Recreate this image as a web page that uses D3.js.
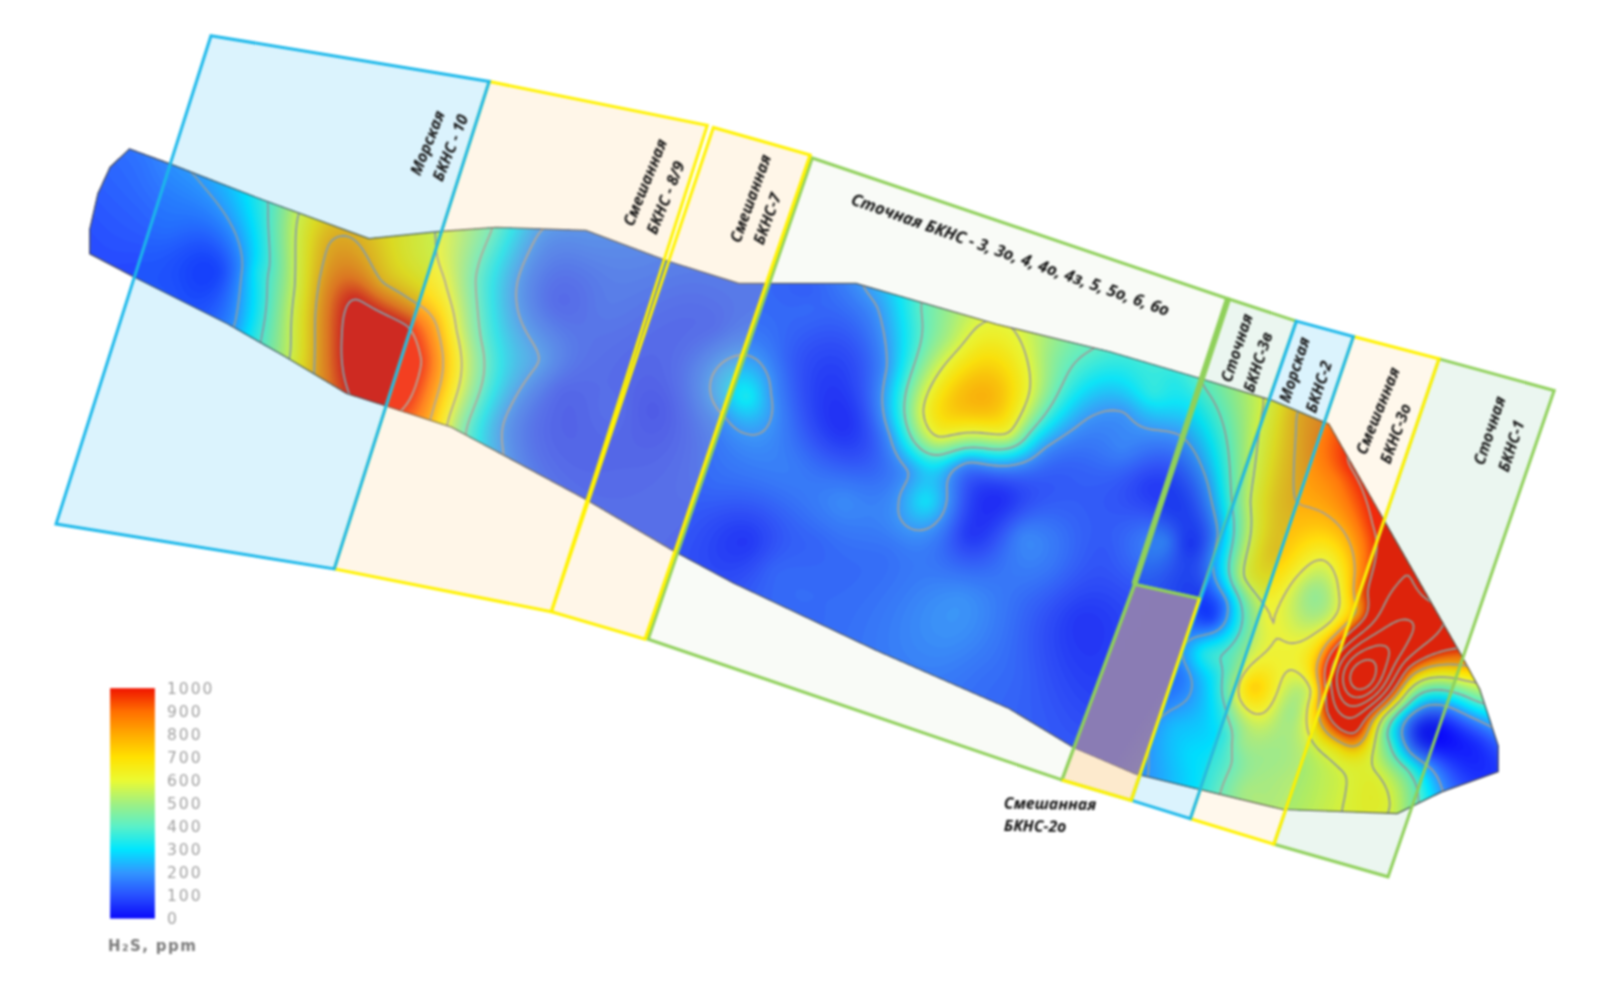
<!DOCTYPE html>
<html><head><meta charset="utf-8">
<script src="https://cdn.jsdelivr.net/npm/d3@7"></script>
<style>html,body{margin:0;background:#fff}svg{display:block;filter:blur(1px)}</style>
</head><body><div id="c"></div>
<script>
// reservoir outline (reference units 1568x973)
const outline=[[127,146],[108,164],[96,190],[88,225],[88,249],[132,272],[224,318],[280,350],[340,386],[378,398],[443,419],[575,490],[660,540],[720,572],[860,638],[990,695],[1053,733],[1114,759],[1180,775],[1259,794],[1371,798],[1414,777],[1470,757],[1470,731],[1452,676],[1433,641],[1304,416],[1249,393],[1177,371],[1089,345],[978,318],[840,278],[725,278],[655,256],[575,226],[487,223],[432,227],[362,234],[255,195],[165,160]];
// H2S readings [x, y, ppm]
const leftSamples=[[105,175,130],[100,220,110],[105,250,100],[135,160,150],[135,205,130],[135,265,90],[165,170,180],[165,225,130],[165,285,90],[189,170,200],[200,230,110],[195,295,80],[237,260,200],[229,318,200],[215,265,70],[250,205,340],[250,265,340],[245,325,330],
[262,202,400],[264,260,400],[255,330,400],[290,214,600],[288,280,600],[284,342,600],[321,237,800],[312,272,800],[307,357,800],[355,244,800],[373,276,800],[404,295,800],[426,314,800],[432,369,800],[421,411,800],[347,290,1000],[334,330,1000],[340,381,1000],[399,318,1000],[413,353,1000],[395,398,1000],[365,340,1130],[378,375,1110],[390,350,1060],
[400,245,660],[435,272,600],[446,322,600],[439,407,600],[430,233,590],[481,225,400],[465,272,400],[470,330,400],[456,419,400],[527,227,200],[506,276,200],[529,353,200],[492,415,200],[492,438,200]];
const midSamples=[[548,295,100],[548,381,100],[590,300,130],[600,400,110],[575,240,160],[640,280,130],[640,400,70],[620,470,100],[670,520,100],[660,330,100],[700,320,110],[700,290,120],[670,440,110],[732,347,200],[754,385,200],[732,424,200],[711,407,200],[732,388,330],[701,474,130],[732,530,50],[757,556,120],[774,458,160],[827,415,40],[837,376,80],[790,300,130],[820,300,130],[827,490,180],[802,605,130],[770,350,120],[800,530,120]];
const centerSamples=[[848,284,200],[869,360,200],[872,425,200],[892,461,200],[881,494,200],[904,518,200],[928,487,200],[935,458,200],[949,451,200],[995,454,200],[1023,438,200],[1065,409,200],[1103,402,200],[1156,425,200],[1184,474,200],[1194,523,200],
[902,302,400],[886,395,400],[893,428,400],[918,445,400],[946,438,400],[988,438,400],[1009,422,400],[1068,343,400],[956,320,600],[904,402,600],[918,428,600],[988,425,600],[1009,382,600],[997,328,600],[967,389,790],[967,345,690],[930,330,520],[1030,350,480],[907,490,310],[984,487,40],[949,523,50],[1002,523,170],[942,585,190],[897,572,160],[1002,588,130],[870,540,140],[860,300,200],[1166,533,40],[1142,530,170],[1124,474,60],[1054,474,110],[1082,539,100],[1058,605,50],[1070,700,80],[1000,660,120],[930,620,190],[1030,560,140],[1090,620,60],[1090,700,80],[1120,650,100],[1100,440,170],[1170,395,320],[1130,385,350],[1100,365,320],[1150,500,60],[1030,700,100],[960,660,140],[800,570,130],[735,285,130],[790,285,110],[1150,372,330]];
const rightSamples=[[1180,379,400],[1204,443,400],[1209,506,400],[1239,395,600],[1225,491,600],[1218,565,600],[1235,587,600],[1270,406,800],[1270,491,800],[1215,400,500],[1297,412,880],[1250,450,720],[1250,540,760],[1210,600,300],[1200,590,150],[1187,606,50],[1166,600,90],[1180,639,360],[1159,661,150],[1149,709,250],[1166,738,300],[1135,757,220],[1194,642,400],[1201,690,400],[1208,653,450],[1190,661,330],[1187,709,300],[1201,720,330],[1208,746,400],[1228,672,750],[1214,683,600],[1239,698,600],[1256,665,600],[1270,659,600],[1287,676,600],[1266,698,480],[1242,738,480],[1215,727,470],[1221,775,500],[1287,580,470],[1297,547,600],[1311,569,600],[1304,609,600],[1270,628,600],[1242,609,600],[1277,558,600],[1242,654,640],[1277,642,640],
[1280,495,800],[1318,521,800],[1328,561,800],[1332,600,830],[1294,642,800],[1321,454,1000],[1345,513,1000],[1359,535,1060],[1335,580,950],[1314,628,1000],[1300,695,1000],[1297,432,900],[1311,469,900],
[1335,665,2050],[1387,609,1400],[1377,558,1200],[1363,639,1600],[1310,665,1400],[1328,716,1050],[1328,731,800],[1328,746,640],[1400,580,1150],[1430,625,1080],[1345,705,800],[1449,654,800],[1449,668,600],[1449,683,450],[1449,694,320],[1449,705,200],[1449,727,60],[1460,757,60],[1394,716,10],[1431,738,40],[1380,676,600],[1380,665,800],[1380,653,1000],[1380,639,1300],[1380,690,400],[1380,698,250],[1356,701,600],[1359,720,400],[1385,735,150],[1345,738,600],[1352,760,600],[1363,790,600],[1363,727,400],[1380,753,400],[1390,775,400],[1390,786,400],[1404,753,200],[1414,775,200],[1345,764,630],[1330,775,620],[1318,783,600],[1294,764,560],[1318,757,600],[1290,727,620],[1311,731,700],[1342,727,680],[1259,764,510],[1242,779,500],[1180,770,330]];
const samples=[...leftSamples,...midSamples,...centerSamples,...rightSamples];
// zones
const zoneBlue10=[[207,35],[480,80],[328,558],[55,514]];
const zoneYellow89=[[480,80],[694,123],[541,600],[328,558]];
const zoneYellow7=[[700,125],[795,152],[633,627],[541,600]];
const zoneGreenBig=[[797,155],[1205,293],[1113,575],[1042,765],[636,627]];
const zoneGreen3v=[[1205,293],[1272,315],[1177,587],[1113,573]];
const zonePurple=[[1113,573],[1177,587],[1110,785],[1042,765]];
const zoneBlue2=[[1272,315],[1328,330],[1168,803],[1110,785]];
const zoneYellow3o=[[1328,330],[1412,352],[1250,828],[1168,803]];
const zoneGreen1=[[1412,352],[1525,383],[1362,860],[1250,828]];
const legendTicks=[0,100,200,300,400,500,600,700,800,900,1000];
const legendColors=["#0a0afa","#2850ff","#3296ff","#00e6ff","#5af0c8","#a0f082","#ebfa32","#ffe100","#ffaa00","#ff6e00","#f01400"];
const isoLevels=[200,400,600,800,1000,1200,1400,1600,1800,2000];

const W=1598,H=992;
const xS=d3.scaleLinear().domain([0,1568]).range([0,W]);
const yS=d3.scaleLinear().domain([0,973]).range([0,H]);
const color=d3.scaleLinear().domain(legendTicks).range(legendColors).clamp(true);
const svg=d3.select("#c").append("svg").attr("width",W).attr("height",H);
const line=d3.line().x(d=>xS(d[0])).y(d=>yS(d[1]));
const closed=d3.line().x(d=>xS(d[0])).y(d=>yS(d[1])).curve(d3.curveLinearClosed);
const defs=svg.append("defs");
defs.append("clipPath").attr("id","band").append("path").attr("d",closed(outline));

// thin plate surface through the readings
function fitSurface(pts,lam){
  const n=pts.length,N=n+3,A=[];
  const U=r2=>r2<=1e-9?0:.5*r2*Math.log(r2);
  const px=pts.map(p=>p[0]/100),py=pts.map(p=>p[1]/100);
  for(let i=0;i<N;i++)A.push(new Float64Array(N+1));
  for(let i=0;i<n;i++){
    for(let j=0;j<n;j++){const dx=px[i]-px[j],dy=py[i]-py[j];A[i][j]=U(dx*dx+dy*dy);}
    A[i][i]=lam;A[i][n]=1;A[i][n+1]=px[i];A[i][n+2]=py[i];
    A[n][i]=1;A[n+1][i]=px[i];A[n+2][i]=py[i];A[i][N]=pts[i][2];
  }
  for(let c=0;c<N;c++){
    let m=c;for(let r=c+1;r<N;r++)if(Math.abs(A[r][c])>Math.abs(A[m][c]))m=r;
    const t=A[c];A[c]=A[m];A[m]=t;
    for(let r=c+1;r<N;r++){const f=A[r][c]/A[c][c];if(f===0)continue;for(let k=c;k<=N;k++)A[r][k]-=f*A[c][k];}
  }
  const w=new Float64Array(N);
  for(let r=N-1;r>=0;r--){let s=A[r][N];for(let k=r+1;k<N;k++)s-=A[r][k]*w[k];w[r]=s/A[r][r];}
  return (x,y)=>{x/=100;y/=100;let s=w[n]+w[n+1]*x+w[n+2]*y;
    for(let i=0;i<n;i++){const dx=x-px[i],dy=y-py[i];s+=w[i]*U(dx*dx+dy*dy);}
    return s;};
}
const f=fitSurface(samples,.012);
const step=3,gw=Math.ceil(W/step),gh=Math.ceil(H/step);
const grid=new Float64Array(gw*gh).fill(0);
for(let j=0;j<gh;j++)for(let i=0;i<gw;i++){
  const x=xS.invert(i*step),y=yS.invert(j*step);
  if(x>70&&x<1490&&y>130&&y<815)grid[j*gw+i]=Math.max(0,Math.min(2600,f(x,y)));
}
const path=d3.geoPath(d3.geoTransform({point(x,y){this.stream.point(x*step,y*step);}}));
const contours=d3.contours().size([gw,gh]).smooth(true);
const fieldG=svg.append("g").attr("clip-path","url(#band)");
fieldG.append("path").attr("d",closed(outline)).attr("fill",color(0));
const fills=d3.range(5,1001,7);
fieldG.selectAll("path.f").data(contours.thresholds(fills)(grid)).join("path").attr("class","f")
  .attr("d",path).attr("fill",d=>color(d.value));
fieldG.selectAll("path.i").data(contours.thresholds(isoLevels)(grid)).join("path").attr("class","i")
  .attr("d",path).attr("fill","none").attr("stroke","#9c9c9c").attr("stroke-width",1.8);
svg.append("path").attr("d",closed(outline)).attr("fill","none").attr("stroke","#555").attr("stroke-width",1.2);

// purple and lower orange
const pg=defs.append("linearGradient").attr("id","pg").attr("x1",0).attr("y1",0).attr("x2",1).attr("y2",1);
pg.append("stop").attr("offset",0).attr("stop-color","#8a7cb6");
pg.append("stop").attr("offset",.6).attr("stop-color","#8a7cb4");
pg.append("stop").attr("offset",1).attr("stop-color","#9c96a4");
svg.append("path").attr("d",closed(zonePurple)).attr("fill","#fabe64").attr("fill-opacity",.32);
svg.append("path").attr("d",closed(zonePurple)).attr("clip-path","url(#band)").attr("fill","url(#pg)");
const zones=[
 {p:zoneGreenBig,f:"#b4d296",o:.08,s:"#8fd05a",w:3},
 {p:zoneGreen3v,f:"#3caa6e",o:.1,s:"#8fd05a",w:3},
 {p:zoneGreen1,f:"#3caa6e",o:.1,s:"#8fd05a",w:3},
 {p:zoneYellow89,f:"#ffd796",o:.22,s:"#fff200",w:3},
 {p:zoneYellow7,f:"#ffd796",o:.22,s:"#fff200",w:3},
 {p:zoneYellow3o,f:"#ffc864",o:.12,s:"#fff200",w:3},
 {p:zoneBlue10,f:"#00aaf0",o:.14,s:"#1cb8ea",w:3},
 {p:zoneBlue2,f:"#00aaf0",o:.14,s:"#1cb8ea",w:3}];
svg.append("g").selectAll("path").data(zones).join("path")
 .attr("d",d=>closed(d.p)).attr("fill",d=>d.f).attr("fill-opacity",d=>d.o)
 .attr("stroke",d=>d.s).attr("stroke-width",d=>d.w).attr("stroke-linejoin","miter");
svg.append("path").attr("d",line([zoneGreen3v[0],zoneGreen3v[3]])).attr("stroke","#8fd05a").attr("stroke-width",6);
svg.append("path").attr("d",closed(zonePurple)).attr("fill","none").attr("stroke","#8fd05a").attr("stroke-width",3);
svg.append("path").attr("d",line([zonePurple[1],zonePurple[2],zonePurple[3]])).attr("fill","none").attr("stroke","#fff200").attr("stroke-width",3);
svg.append("path").attr("d",line([zoneYellow7[1],zoneYellow7[2]])).attr("stroke","#fff200").attr("stroke-width",3);

// labels
const labels=[
 ["Морская",412,173,-68],["БКНС - 10",434,179,-68],
 ["Смешанная",621,223,-68],["БКНС - 8/9",644,231,-68],
 ["Смешанная",726,239,-70],["БКНС-7",749,241,-70],
 ["Сточная БКНС - 3, 3о, 4, 4о, 4з, 5, 5о, 6, 6о",834,200,19.5],
 ["Сточная",1208,376,-72],["БКНС-3в",1230,386,-72],
 ["Морская",1265,396,-72],["БКНС-2",1291,406,-72],
 ["Смешанная",1340,447,-68],["БКНС-3о",1364,456,-70],
 ["Сточная",1456,457,-72],["БКНС-1",1480,464,-72],
 ["Смешанная",985,793,1],["БКНС-2о",985,815,1]];
svg.append("g").selectAll("text").data(labels).join("text")
 .attr("transform",d=>`translate(${xS(d[1])},${yS(d[2])}) rotate(${d[3]})`)
 .text(d=>d[0]).attr("font-family","'Open Sans',sans-serif").attr("font-style","italic").attr("font-weight",700).attr("font-size",d=>d[0].length>20?16.6:15.8).attr("fill","#111");

// legend
const grad=defs.append("linearGradient").attr("id","lg").attr("x1",0).attr("x2",0).attr("y1",1).attr("y2",0);
grad.selectAll("stop").data(legendTicks).join("stop").attr("offset",d=>d/1000).attr("stop-color",d=>color(d));
const ly=d3.scaleLinear().domain([0,1000]).range([yS(901),yS(675)]);
svg.append("rect").attr("x",xS(108)).attr("y",ly(1000)).attr("width",xS(44)).attr("height",ly(0)-ly(1000)).attr("fill","url(#lg)");
const ax=svg.append("g").attr("transform",`translate(${xS(152)},0)`).call(d3.axisRight(ly).tickValues(legendTicks).tickFormat(d3.format("d")).tickSize(0).tickPadding(12));
ax.select(".domain").remove();
ax.selectAll("text").attr("font-family","'DejaVu Sans',sans-serif").attr("font-size",15.5).attr("letter-spacing",2).attr("fill","#a0a0a0");
svg.append("text").attr("x",xS(106)).attr("y",yS(933)).attr("font-family","'DejaVu Sans',sans-serif").attr("font-weight",700).attr("font-size",15).attr("letter-spacing",1.4).attr("fill","#7a7a7a").text("H₂S, ppm");
</script></body></html>
